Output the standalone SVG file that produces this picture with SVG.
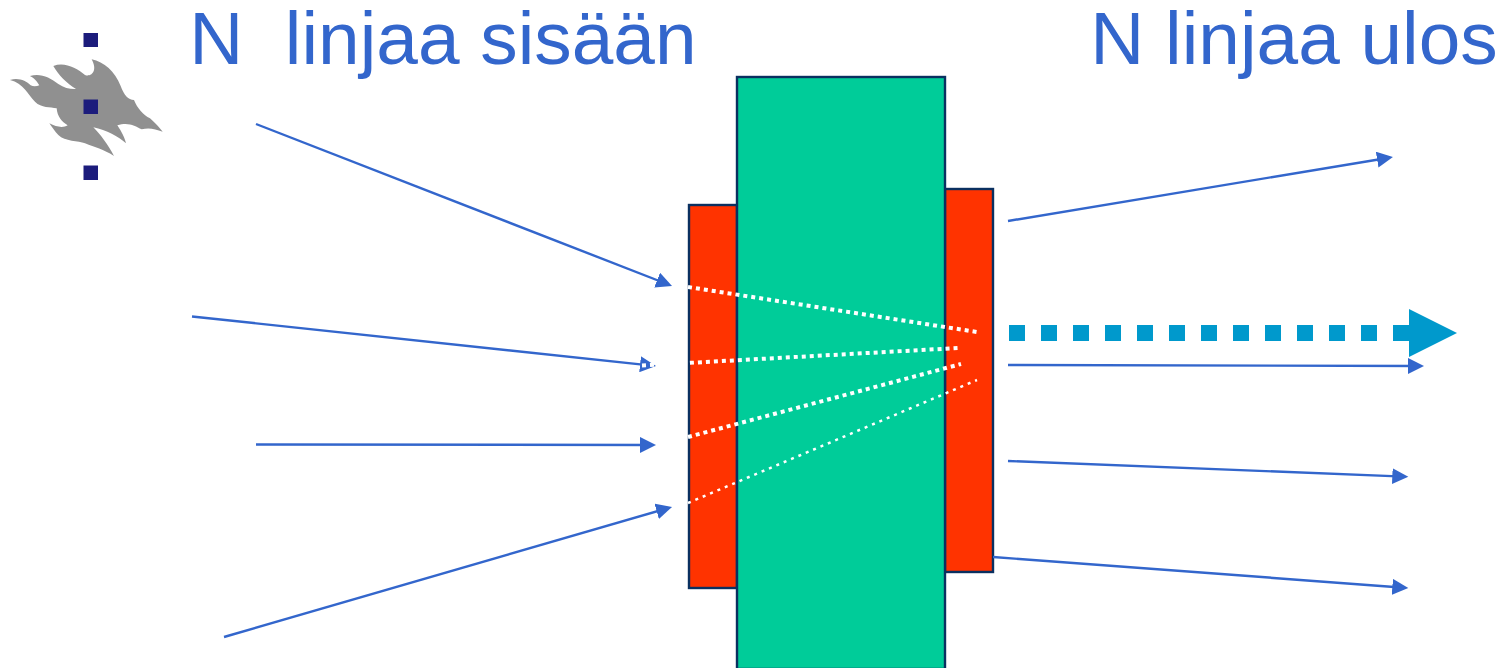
<svg xmlns="http://www.w3.org/2000/svg" width="1501" height="668" viewBox="0 0 1501 668">
<style>
.title{font-family:"Liberation Sans",Arial,sans-serif;font-size:74.8px;fill:#3366cc;white-space:pre}
.block{stroke:#0a3060;stroke-width:2.4}
.in{stroke:#3366cc;stroke-width:2.4;fill:none;marker-end:url(#head)}
.dot{stroke:#fff;fill:none;stroke-width:4;stroke-dasharray:4 4}
.bullet{fill:#1c1c7c}
</style>
<defs>
<marker id="head" markerUnits="userSpaceOnUse" markerWidth="18" markerHeight="16" refX="12" refY="8" orient="auto"><path d="M0 0L16 8L0 16Z" fill="#3366cc"/></marker>
</defs>
<rect width="1501" height="668" fill="#fff"/>
<g id="logo">
<path transform="translate(0 20) scale(.33333)" fill="#909090" d="M30 180C55 172 78 182 92 196C100 200 110 199 118 196C112 185 100 172 90 168C120 158 150 172 175 192C192 204 212 208 228 207C200 190 175 165 160 138C195 125 230 145 255 165C272 172 295 155 275 118C312 125 345 155 362 198C372 225 385 240 402 240C412 265 430 285 450 295C465 308 480 325 488 335C465 326 445 322 425 328C405 318 385 305 352 316C365 335 375 355 378 370C355 350 320 330 280 322C300 342 325 375 342 408C310 388 285 382 255 370C235 362 195 365 175 345C165 335 155 320 148 310C170 322 190 324 203 316C185 305 172 290 170 265C150 260 125 265 105 245C85 225 70 190 30 180Z"/>
</g>
<g id="bullets">
<rect class="bullet" x="83.5" y="33" width="14.5" height="14"/>
<rect class="bullet" x="83.5" y="99.5" width="14.5" height="14.5"/>
<rect class="bullet" x="83.5" y="165.500" width="14.5" height="14.500"/>
</g>
<g id="title-in"><text class="title" x="189.300" y="64">N  linjaa sisään</text></g>
<g id="title-out"><text class="title" x="1090.300" y="64">N linjaa ulos</text></g>
<g id="input-block"><rect class="block" x="689" y="205" width="48" height="383" fill="#ff3300"/></g>
<g id="output-block"><rect class="block" x="945" y="189" width="48" height="383" fill="#ff3300"/></g>
<g id="switch"><rect class="block" x="737" y="77" width="208" height="592" fill="#00cc99"/></g>
<g id="connectors">
<path class="in" d="M256 124L668.300 284.500"/>
<path class="in" d="M192 316.500L652 365.600"/>
<path class="in" d="M256 444.500L652 445"/>
<path class="in" d="M224 637L668.200 508"/>
<path class="in" d="M1008 221L1389 157.700"/>
<path class="in" d="M1008 365L1420 366"/>
<path class="in" d="M1008 461L1404.300 476.600"/>
<path class="in" d="M993 557L1404.300 587.700"/>
<path class="dot" d="M688 287L977 332"/>
<path class="dot" d="M642 365.500L958 348"/>
<path class="dot" d="M688 437L961 364"/>
<path class="dot" style="stroke-width:2.500;stroke-dasharray:3 5" d="M688 503L977 380"/>
<path d="M1009 333H1410" fill="none" stroke="#0099cc" stroke-width="16" stroke-dasharray="16 16"/>
<path d="M1409 309L1457 333L1409 357Z" fill="#0099cc"/>
</g>
</svg>
